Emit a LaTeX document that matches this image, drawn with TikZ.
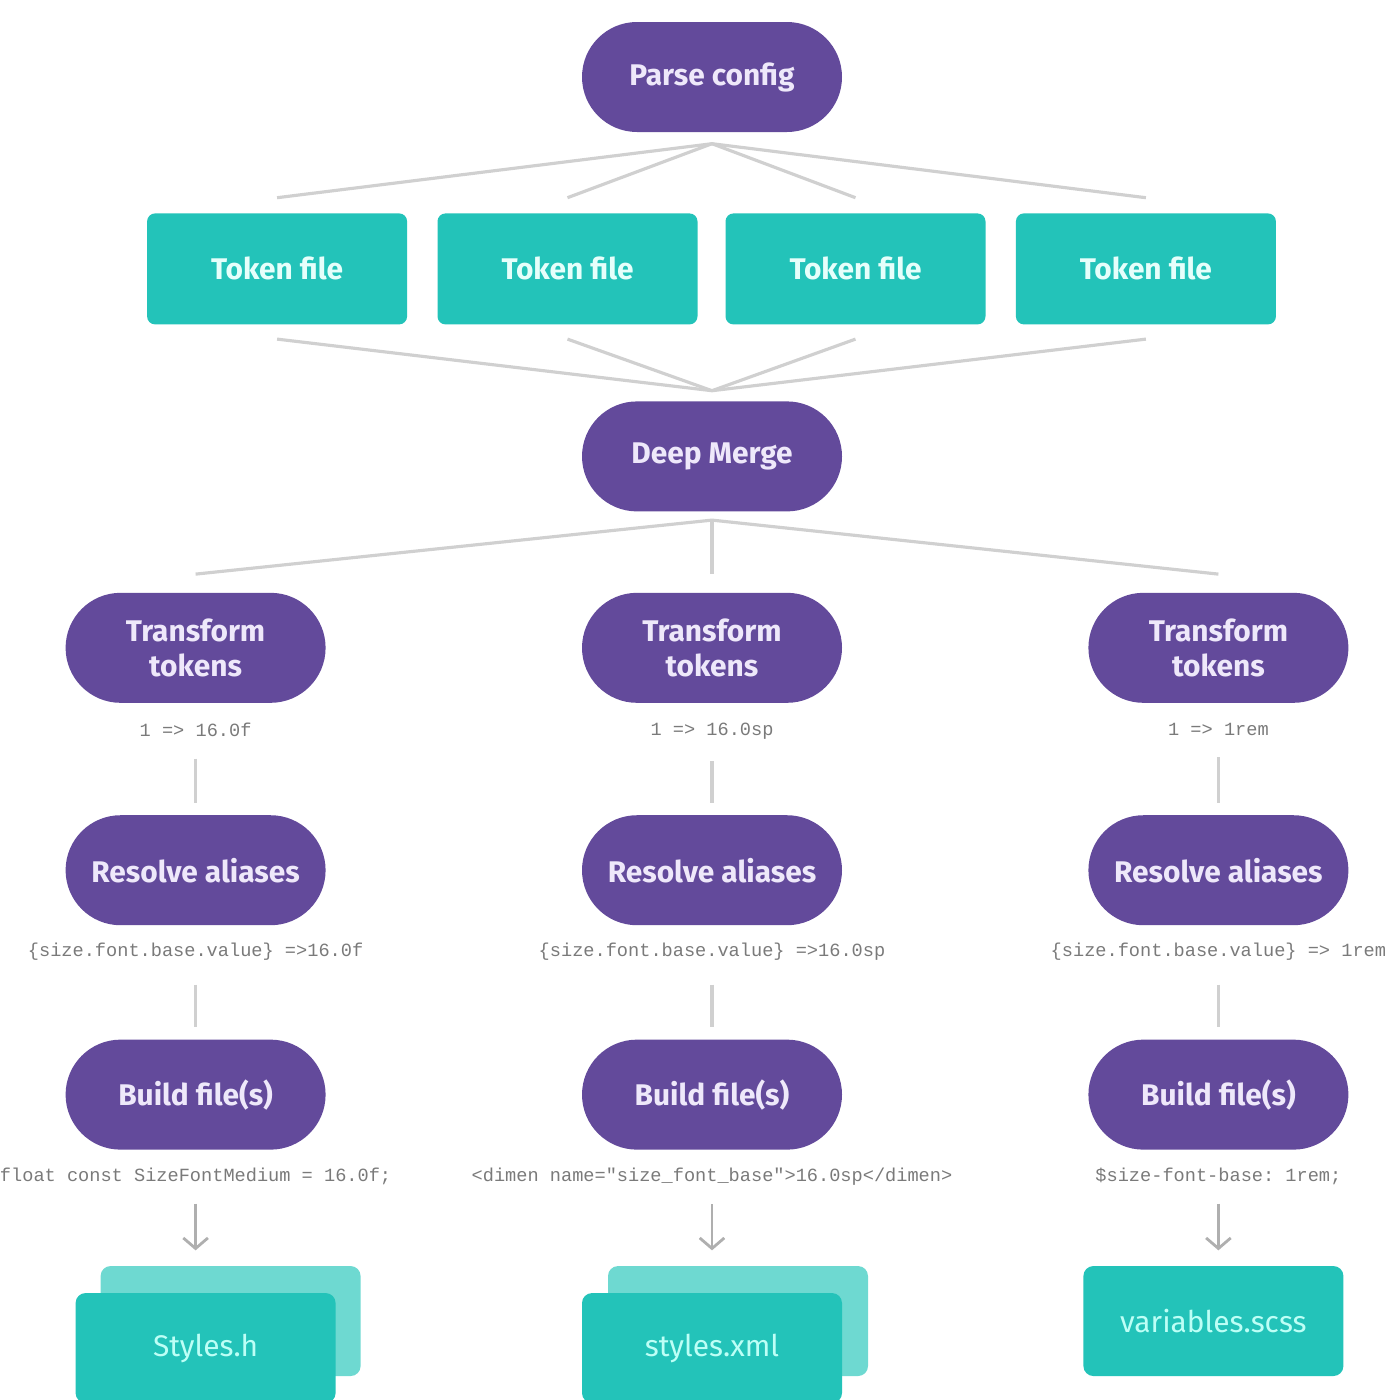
\documentclass[tikz,border=0pt]{standalone}
\usepackage{fontspec}
\setmainfont{Fira Sans}
\setmonofont{Liberation Mono}
\usetikzlibrary{arrows.meta, positioning, backgrounds}
\definecolor{sdpurple}{HTML}{634A9B}
\definecolor{sdpurpletext}{HTML}{EEE8FA}
\definecolor{sdteal}{HTML}{23C3B9}
\definecolor{sdteallight}{HTML}{6ED9D1}
\definecolor{sdtealtext}{HTML}{E6FFFB}
\definecolor{sdouttext}{HTML}{BDFFF6}
\definecolor{sdline}{HTML}{D0D0D0}
\definecolor{sdcode}{HTML}{7A7A7A}

\begin{document}
\begin{tikzpicture}[
    node distance=0.8cm,
    stage/.style={rectangle, fill=sdpurple, rounded corners=0.55cm, minimum width=2.6cm, minimum height=1.1cm, text=sdpurpletext, font=\fontsize{8.5}{10}\selectfont\bfseries, align=center, inner sep=0pt},
    tokfile/.style={rectangle, fill=sdteal, rounded corners=0.08cm, minimum width=2.6cm, minimum height=1.11cm, text=sdtealtext, font=\fontsize{8.5}{10}\selectfont\bfseries},
    outfile/.style={rectangle, fill=sdteal, rounded corners=0.1cm, minimum width=2.6cm, minimum height=1.1cm, text=sdouttext, font=\fontsize{8.5}{10}\selectfont},
    outback/.style={outfile, fill=sdteallight},
    codelbl/.style={font=\ttfamily\fontsize{5.3}{6}\selectfont, text=sdcode, inner sep=1pt},
    link/.style={draw=sdline, line width=0.9pt},
    flow/.style={draw=sdcode!60, line width=0.8pt, -{Straight Barb[length=3pt, width=7pt]}}
]
\useasboundingbox (0,0) rectangle (13.95,-14.00);

% Config and token files
\node[stage] (parse) at (7.12,-0.77) {Parse config};
\node[tokfile, below=0.8cm of parse, xshift=-1.445cm] (tok2) {Token file};
\node[tokfile, below=0.8cm of parse, xshift=1.435cm] (tok3) {Token file};
\node[tokfile, left=0.29cm of tok2] (tok1) {Token file};
\node[tokfile, right=0.29cm of tok3] (tok4) {Token file};

% Merge
\node[stage, below=2.68cm of parse] (merge) {Deep Merge};

% Transform step
\node[stage, below=0.80cm of merge] (tf2) {Transform\\tokens};
\node[stage, left=2.55cm of tf2] (tf1) {Transform\\tokens};
\node[stage, right=2.45cm of tf2] (tf3) {Transform\\tokens};
\node[codelbl, below=0.15cm of tf1] (tfc1) {1 => 16.0f};
\node[codelbl, below=0.15cm of tf2] (tfc2) {1 => 16.0sp};
\node[codelbl, below=0.15cm of tf3] (tfc3) {1 => 1rem};

% Resolve step
\node[stage, below=1.11cm of tf1] (res1) {Resolve aliases};
\node[stage, below=1.11cm of tf2] (res2) {Resolve aliases};
\node[stage, below=1.11cm of tf3] (res3) {Resolve aliases};
\node[codelbl, below=0.13cm of res1] (resc1) {\{size.font.base.value\} =>16.0f};
\node[codelbl, below=0.13cm of res2] (resc2) {\{size.font.base.value\} =>16.0sp};
\node[codelbl, below=0.13cm of res3] (resc3) {\{size.font.base.value\} => 1rem};

% Build step
\node[stage, below=1.13cm of res1] (bld1) {Build file(s)};
\node[stage, below=1.13cm of res2] (bld2) {Build file(s)};
\node[stage, below=1.13cm of res3] (bld3) {Build file(s)};
\node[codelbl, below=0.13cm of bld1] (bldc1) {float const SizeFontMedium = 16.0f;};
\node[codelbl, below=0.13cm of bld2] (bldc2) {<dimen name="size\_font\_base">16.0sp</dimen>};
\node[codelbl, below=0.13cm of bld3] (bldc3) {\$size-font-base: 1rem;};

% Output files
\node[outfile, below=1.42cm of bld1, xshift=0.1cm] (out1) {Styles.h};
\node[outfile, below=1.42cm of bld2] (out2) {styles.xml};
\node[outfile, below=1.15cm of bld3, xshift=-0.05cm] (out3) {variables.scss};
\begin{scope}[on background layer]
\node[outback] (out1b) at ([xshift=0.25cm, yshift=0.27cm]out1.center) {};
\node[outback] (out2b) at ([xshift=0.26cm, yshift=0.27cm]out2.center) {};
\end{scope}

% Links
\draw[link] ([yshift=-0.11cm]parse.south) -- ([yshift=0.15cm]tok1.north);
\draw[link] ([yshift=-0.11cm]parse.south) -- ([yshift=0.15cm]tok2.north);
\draw[link] ([yshift=-0.11cm]parse.south) -- ([yshift=0.15cm]tok3.north);
\draw[link] ([yshift=-0.11cm]parse.south) -- ([yshift=0.15cm]tok4.north);

\draw[link] ([yshift=-0.14cm]tok1.south) -- ([yshift=0.10cm]merge.north);
\draw[link] ([yshift=-0.14cm]tok2.south) -- ([yshift=0.10cm]merge.north);
\draw[link] ([yshift=-0.14cm]tok3.south) -- ([yshift=0.10cm]merge.north);
\draw[link] ([yshift=-0.14cm]tok4.south) -- ([yshift=0.10cm]merge.north);

\draw[link] ([yshift=-0.08cm]merge.south) -- ([yshift=0.18cm]tf1.north);
\draw[link] ([yshift=-0.08cm]merge.south) -- ([yshift=0.18cm]tf2.north);
\draw[link] ([yshift=-0.08cm]merge.south) -- ([yshift=0.18cm]tf3.north);

\draw[link, shorten <=0.18cm, shorten >=0.12cm] (tfc1) -- (res1);
\draw[link, shorten <=0.18cm, shorten >=0.12cm] (tfc2) -- (res2);
\draw[link, shorten <=0.18cm, shorten >=0.12cm] (tfc3) -- (res3);

\draw[link, shorten <=0.2cm, shorten >=0.12cm] (resc1) -- (bld1);
\draw[link, shorten <=0.2cm, shorten >=0.12cm] (resc2) -- (bld2);
\draw[link, shorten <=0.2cm, shorten >=0.12cm] (resc3) -- (bld3);

\draw[flow, shorten <=0.15cm, shorten >=0.15cm] (bldc1.south) -- (bldc1.south |- out1b.north);
\draw[flow, shorten <=0.15cm, shorten >=0.15cm] (bldc2.south) -- (bldc2.south |- out2b.north);
\draw[flow, shorten <=0.15cm, shorten >=0.15cm] (bldc3.south) -- (bldc3.south |- out3.north);

\end{tikzpicture}
\end{document}
